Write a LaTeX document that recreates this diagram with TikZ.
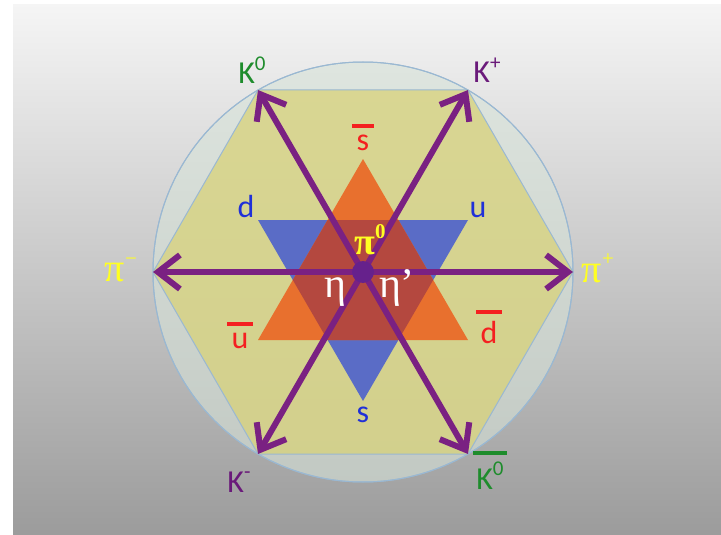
\documentclass[tikz,border=0pt]{standalone}
\usepackage{fontspec}
\setmainfont{Carlito}
\newfontfamily\greek{Liberation Serif}
\usepackage{tikz}
\usetikzlibrary{arrows.meta}

\definecolor{edgeblue}{HTML}{9AB8D2}
\definecolor{ringfill}{HTML}{D6E2D8}
\definecolor{hexfill}{HTML}{D8D27A}
\definecolor{triorange}{HTML}{E8702E}
\definecolor{triblue}{HTML}{5A6CC6}
\definecolor{trimix}{HTML}{B4483F}
\definecolor{mesonpurple}{HTML}{7A2182}
\definecolor{dotpurple}{HTML}{66218C}
\definecolor{kaongreen}{HTML}{1E8C2C}
\definecolor{kaonpurple}{HTML}{6A1A7A}
\definecolor{antired}{HTML}{F42020}
\definecolor{quarkblue}{HTML}{2030D8}
\definecolor{pionyellow}{HTML}{FFFF22}

% raised small index, and a bar set over a label
\newcommand{\hi}[1]{\raisebox{0.42em}{\fontsize{21}{21}\selectfont #1}}
\newcommand{\qbar}[2][0.8em]{\vbox{\offinterlineskip\halign{\hfil##\hfil\cr\rule{#1}{4pt}\cr\noalign{\kern 7pt}#2\cr}}}

\begin{document}
\begin{tikzpicture}[x=1pt, y=-1pt,
  font=\fontsize{32}{34}\selectfont,
  every node/.style={inner sep=0pt, align=center},
  ring/.style={draw=edgeblue, line width=1pt, fill=ringfill, fill opacity=0.6},
  hexa/.style={draw=edgeblue, line width=1pt, fill=hexfill, fill opacity=0.75},
  biarr/.style={{Straight Barb[length=22pt,width=34pt]}-{Straight Barb[length=22pt,width=34pt]}, line width=6pt, draw=mesonpurple},
  quark/.style={text=quarkblue},
  anti/.style={text=antired},
  pion/.style={text=pionyellow, font=\fontsize{40}{40}\selectfont\greek},
  eta/.style={text=white, font=\fontsize{42}{42}\selectfont\greek}
]
  \useasboundingbox (0,0) rectangle (721,535);
  \fill[white] (0,0) rectangle (721,535);
  \shade[top color=black!4, middle color=black!20, bottom color=black!39] (13,5) rectangle (721,535);

  % corners of the hexagon
  \coordinate (c)   at (363,272);
  \coordinate (pip) at (573,272);
  \coordinate (kp)  at (468,90);
  \coordinate (kz)  at (258,90);
  \coordinate (pim) at (153,272);
  \coordinate (km)  at (258,454);
  \coordinate (kzb) at (468,454);

  \fill[ring] (c) circle[radius=210];
  \draw[ring, fill=none] (c) circle[radius=210];
  \filldraw[hexa] (pip) -- (kp) -- (kz) -- (pim) -- (km) -- (kzb) -- cycle;

  % quark and antiquark triangles
  \fill[triblue]   (258,220) -- (468,220) -- (363,401) -- cycle;
  \fill[triorange] (363,159) -- (468,340) -- (258,340) -- cycle;
  \begin{scope}
    \clip (258,220) -- (468,220) -- (363,401) -- cycle;
    \fill[trimix] (363,159) -- (468,340) -- (258,340) -- cycle;
  \end{scope}

  \draw[biarr] (pim) -- (pip);
  \draw[biarr] (kz) -- (kzb);
  \draw[biarr] (kp) -- (km);
  \fill[dotpurple] (c) circle[radius=11];

  \node[text=kaongreen]  (lkz)  at (252,70)  {K\hi{0}};
  \node[text=kaonpurple] (lkp)  at (487,70)  {K\hi{+}};
  \node[text=kaonpurple] (lkm)  at (239,482) {K\hi{-}};
  \node[text=kaongreen]  (lkzb) at (490,470) {\qbar[1.05em]{K\hi{0}}};
  \node[anti]  (lsb) at (363,137) {\qbar[0.7em]{s}};
  \node[anti]  (lub) at (240,335) {\qbar[0.8em]{u}};
  \node[anti]  (ldb) at (489,327) {\qbar[0.8em]{d}};
  \node[quark] (ld)  at (246,206) {d};
  \node[quark] (lu)  at (478,210) {u};
  \node[quark] (ls)  at (363,415) {s};
  \node[pion] (lpim) at (121,270) {π\hi{−}};
  \node[pion] (lpip) at (598,268) {π\hi{+}};
  \node[pion, font=\fontsize{38}{38}\selectfont\greek\bfseries] (lpiz) at (370,240) {π\hi{0}};
  \node[eta] (leta)  at (335,292) {η};
  \node[eta] (letap) at (397,288) {η’};
\end{tikzpicture}
\end{document}
